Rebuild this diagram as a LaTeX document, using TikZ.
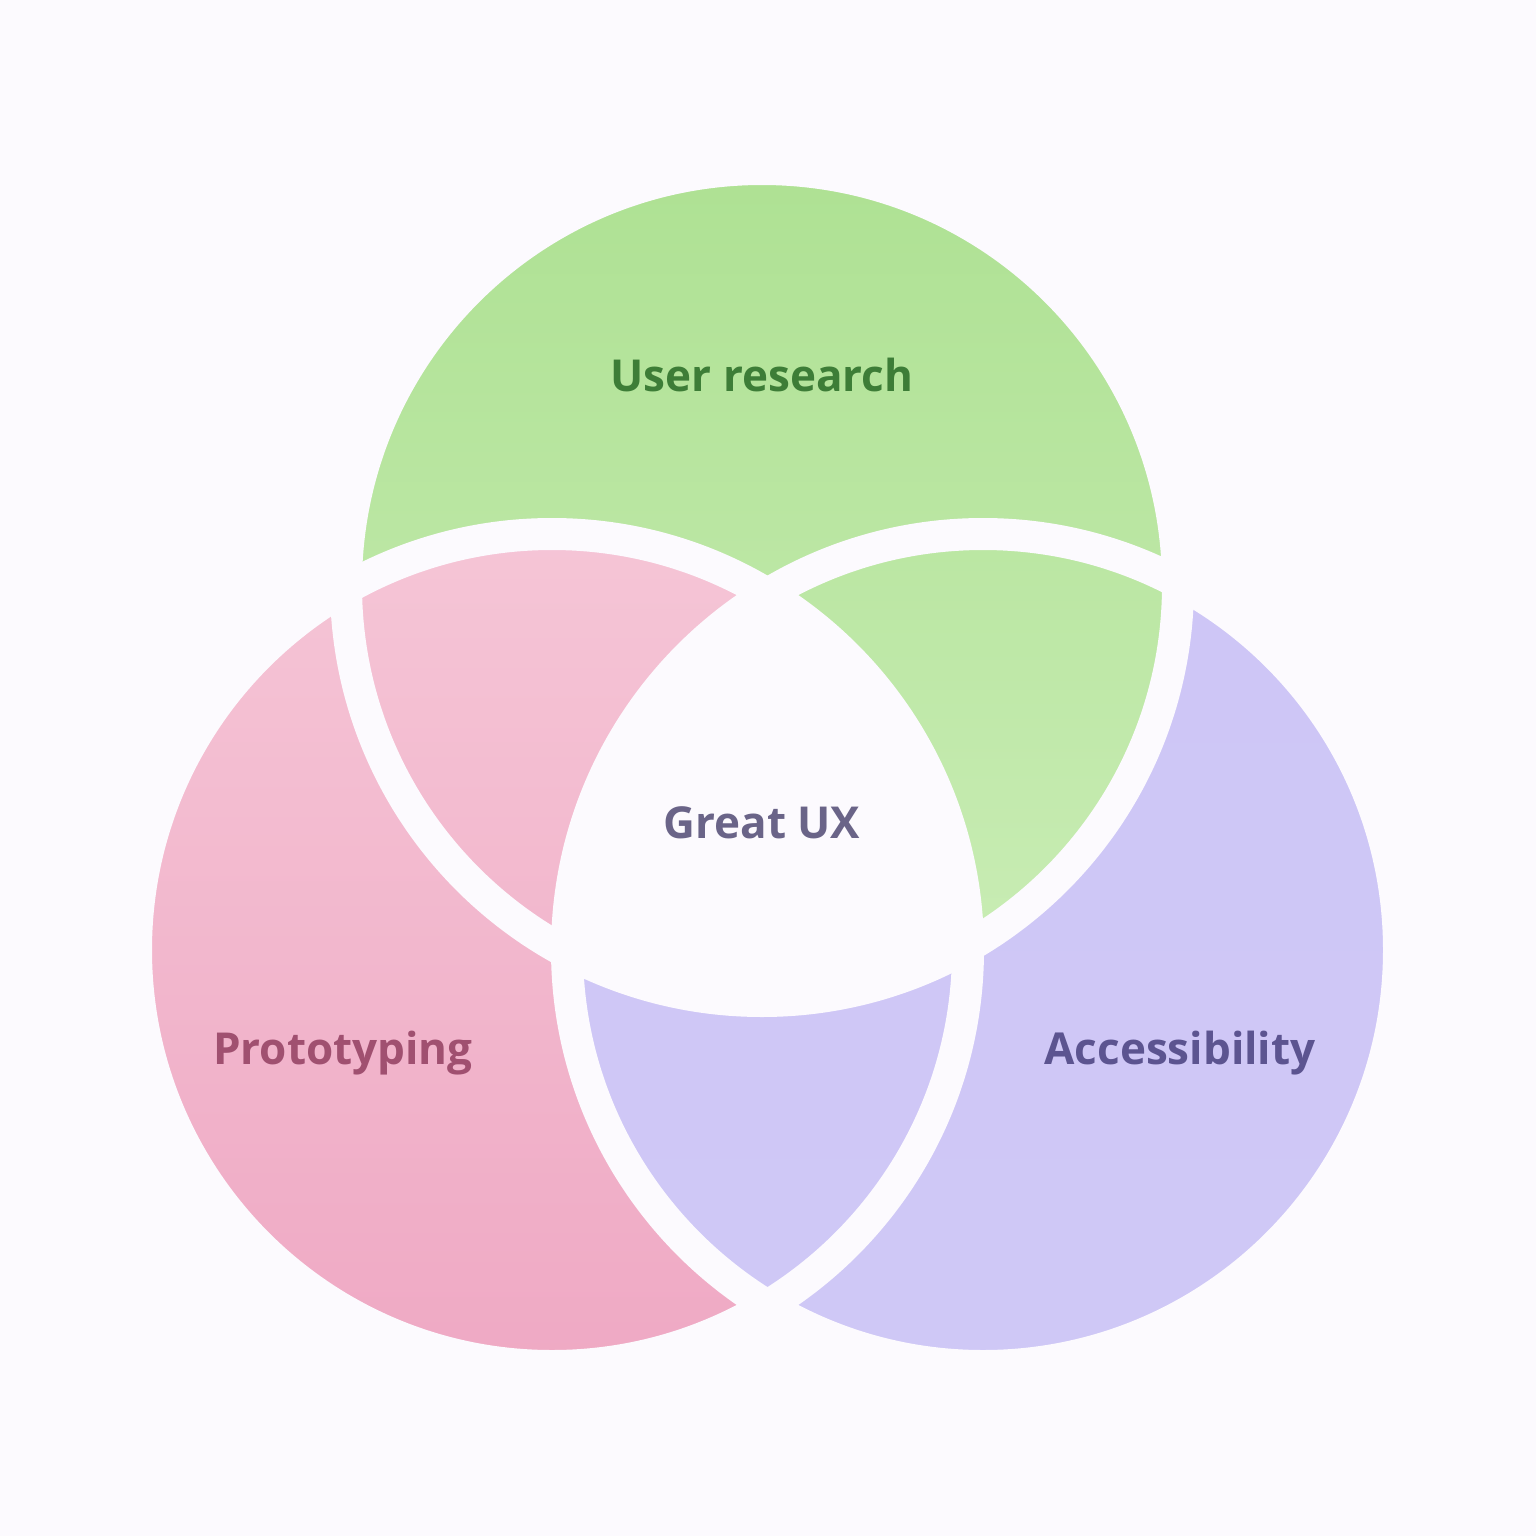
\documentclass[tikz,border=0pt]{standalone}
\usepackage{fontspec}
\setmainfont{Open Sans}
\begin{document}
\begin{tikzpicture}[x=1pt,y=-1pt,
  ring/.style={draw=bgc,line width=32pt},
  lbl/.style={font=\fontsize{44}{50}\selectfont\bfseries}]
\definecolor{bgc}{HTML}{FCFAFE}
\definecolor{gtop}{HTML}{AEE193}
\definecolor{gbot}{HTML}{CAEDB6}
\definecolor{ptop}{HTML}{F5C5D6}
\definecolor{pbot}{HTML}{EFA9C4}
\definecolor{btop}{HTML}{CEC6F6}
\definecolor{bbot}{HTML}{CFC8F6}
\fill[bgc] (0,0) rectangle (1536,1536);
\useasboundingbox (0,0) rectangle (1536,1536);
\coordinate (G) at (762,585);
\coordinate (P) at (552,950);
\coordinate (B) at (983,950);
\shade[top color=gtop,bottom color=gbot] (G) circle (416);
\shade[top color=ptop,bottom color=pbot] (P) circle (416);
\shade[top color=btop,bottom color=bbot] (B) circle (416);
\begin{scope}
 \clip (B) circle (416);
 \shade[top color=gtop,bottom color=gbot] (G) circle (416);
\end{scope}
\begin{scope}
 \clip (G) circle (416);
 \clip (P) circle (416);
 \fill[bgc] (B) circle (416);
\end{scope}
\draw[ring] (G) circle (416);
\draw[ring] (P) circle (416);
\draw[ring] (B) circle (416);
\node[lbl,text=green!30!black!70!gbot] (tg) at (762,375) {User research};
\node[lbl,text={rgb,255:red,160;green,80;blue,112}] (tp) at (343,1053) {Prototyping};
\node[lbl,text={rgb,255:red,92;green,84;blue,144}] (tb) at (1180,1053) {Accessibility};
\node[lbl,text={rgb,255:red,106;green,100;blue,136}] (tc) at (762,823) {Great UX};
\end{tikzpicture}
\end{document}
